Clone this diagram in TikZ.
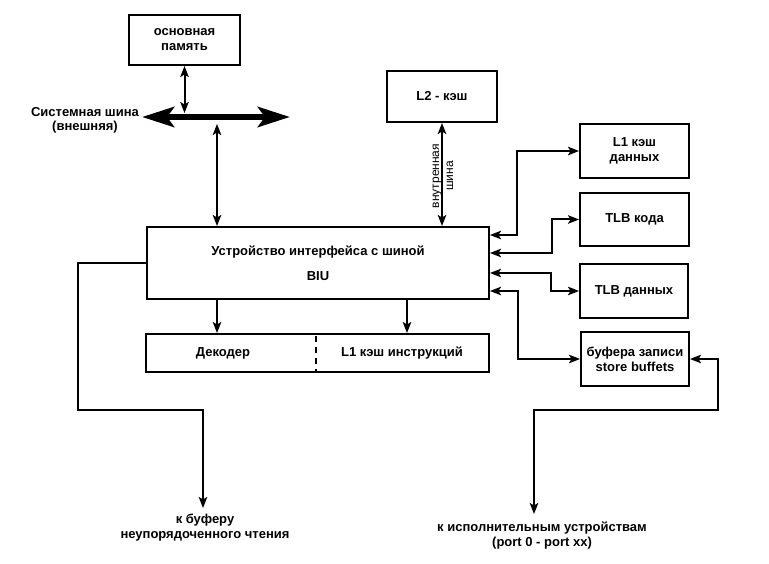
\documentclass[tikz,border=0pt]{standalone}
\usepackage{fontspec}
\setmainfont{Liberation Sans}
\usetikzlibrary{arrows.meta}
\begin{document}
\begin{tikzpicture}[>={Stealth[length=11pt,width=8.5pt,inset=2.5pt]},x=1pt,y=-1pt,line width=2pt,
	blk/.style={draw,line width=2pt,inner sep=0pt,minimum width=109pt,minimum height=54pt,align=center,font=\fontsize{13}{15}\selectfont\bfseries},
	lbl/.style={align=center,inner sep=0pt,font=\fontsize{13}{15}\selectfont\bfseries},
	bus/.style={line width=6pt,{Stealth[length=32pt,width=20pt,inset=7pt]}-{Stealth[length=32pt,width=20pt,inset=7pt]}}]
	\useasboundingbox (0,0) rectangle (769,564);
	\node[blk,minimum width=111pt,minimum height=50pt] (mem) at (184.5,40) {основная\\память};
	\node[blk,minimum width=110pt,minimum height=51pt] (l2) at (442,96.5) {L2 - кэш};
	\node[blk] (l1d) at (634.5,151) {L1 кэш\\данных};
	\node[blk,minimum height=53pt] (tlbc) at (634.5,219.5) {TLB кода};
	\node[blk,minimum width=108pt] (tlbd) at (634,291) {TLB данных};
	\node[blk,minimum width=108pt] (buf) at (635,359) {буфера записи\\store buffets};
	\node[blk,minimum width=342pt,minimum height=72pt] (biu) at (318,263) {Устройство интерфейса с шиной\\[10pt]BIU};
	\node[blk,minimum width=343pt,minimum height=38pt] (dec) at (317.5,353) {};
	\node[lbl] (deco) at (223,353) {Декодер};
	\node[lbl] (l1i) at (402,353) {L1 кэш инструкций};
	\node[lbl,font=\fontsize{13}{14}\selectfont\bfseries] (sysbus) at (85,120) {Системная шина\\(внешняя)};
	\node[rotate=90,align=center,inner sep=0pt,font=\fontsize{12}{14}\selectfont] (ibus) at (443,176) {внутренная\\шина};
	\node[lbl] (rd) at (205,528) {к буферу\\неупорядоченного чтения};
	\node[lbl] (exec) at (542,535.5) {к исполнительным устройствам\\(port 0 - port xx)};
	\coordinate (busL) at (142,117); \coordinate (busR) at (290,117);
	\coordinate (rdtip) at (203,508); \coordinate (exectip) at (534,514);
	\draw[bus] (busL) -- (busR);
	\draw[<->] (mem.south) -- (mem.south |- 0,113);
	\draw[<->] (217,124) -- (biu.north -| 217,0);
	\draw[<->] (l2.south) -- (biu.north -| l2.south);
	\draw[->] (biu.south -| 217,0) -- (dec.north -| 217,0);
	\draw[->] (biu.south -| 407,0) -- (dec.north -| 407,0);
	\draw[line width=1.5pt,dash pattern=on 6pt off 5pt] (316,336) -- (316,371);
	% BIU <-> right blocks
	\draw[<->] (biu.east |- 0,235) -| (517,151) -- (l1d.west);
	\draw[<->] (biu.east |- 0,253) -| (552,219.5) -- (tlbc.west);
	\draw[<->] (biu.east |- 0,273) -| (551,291) -- (tlbd.west);
	\draw[<->] (biu.east |- 0,291) -| (518,359) -- (buf.west);
	\draw[<->] (buf.east) -| (718,410) -| (exectip);
	\draw[->] (biu.west) -| (78,410) -| (rdtip);
\end{tikzpicture}
\end{document}
